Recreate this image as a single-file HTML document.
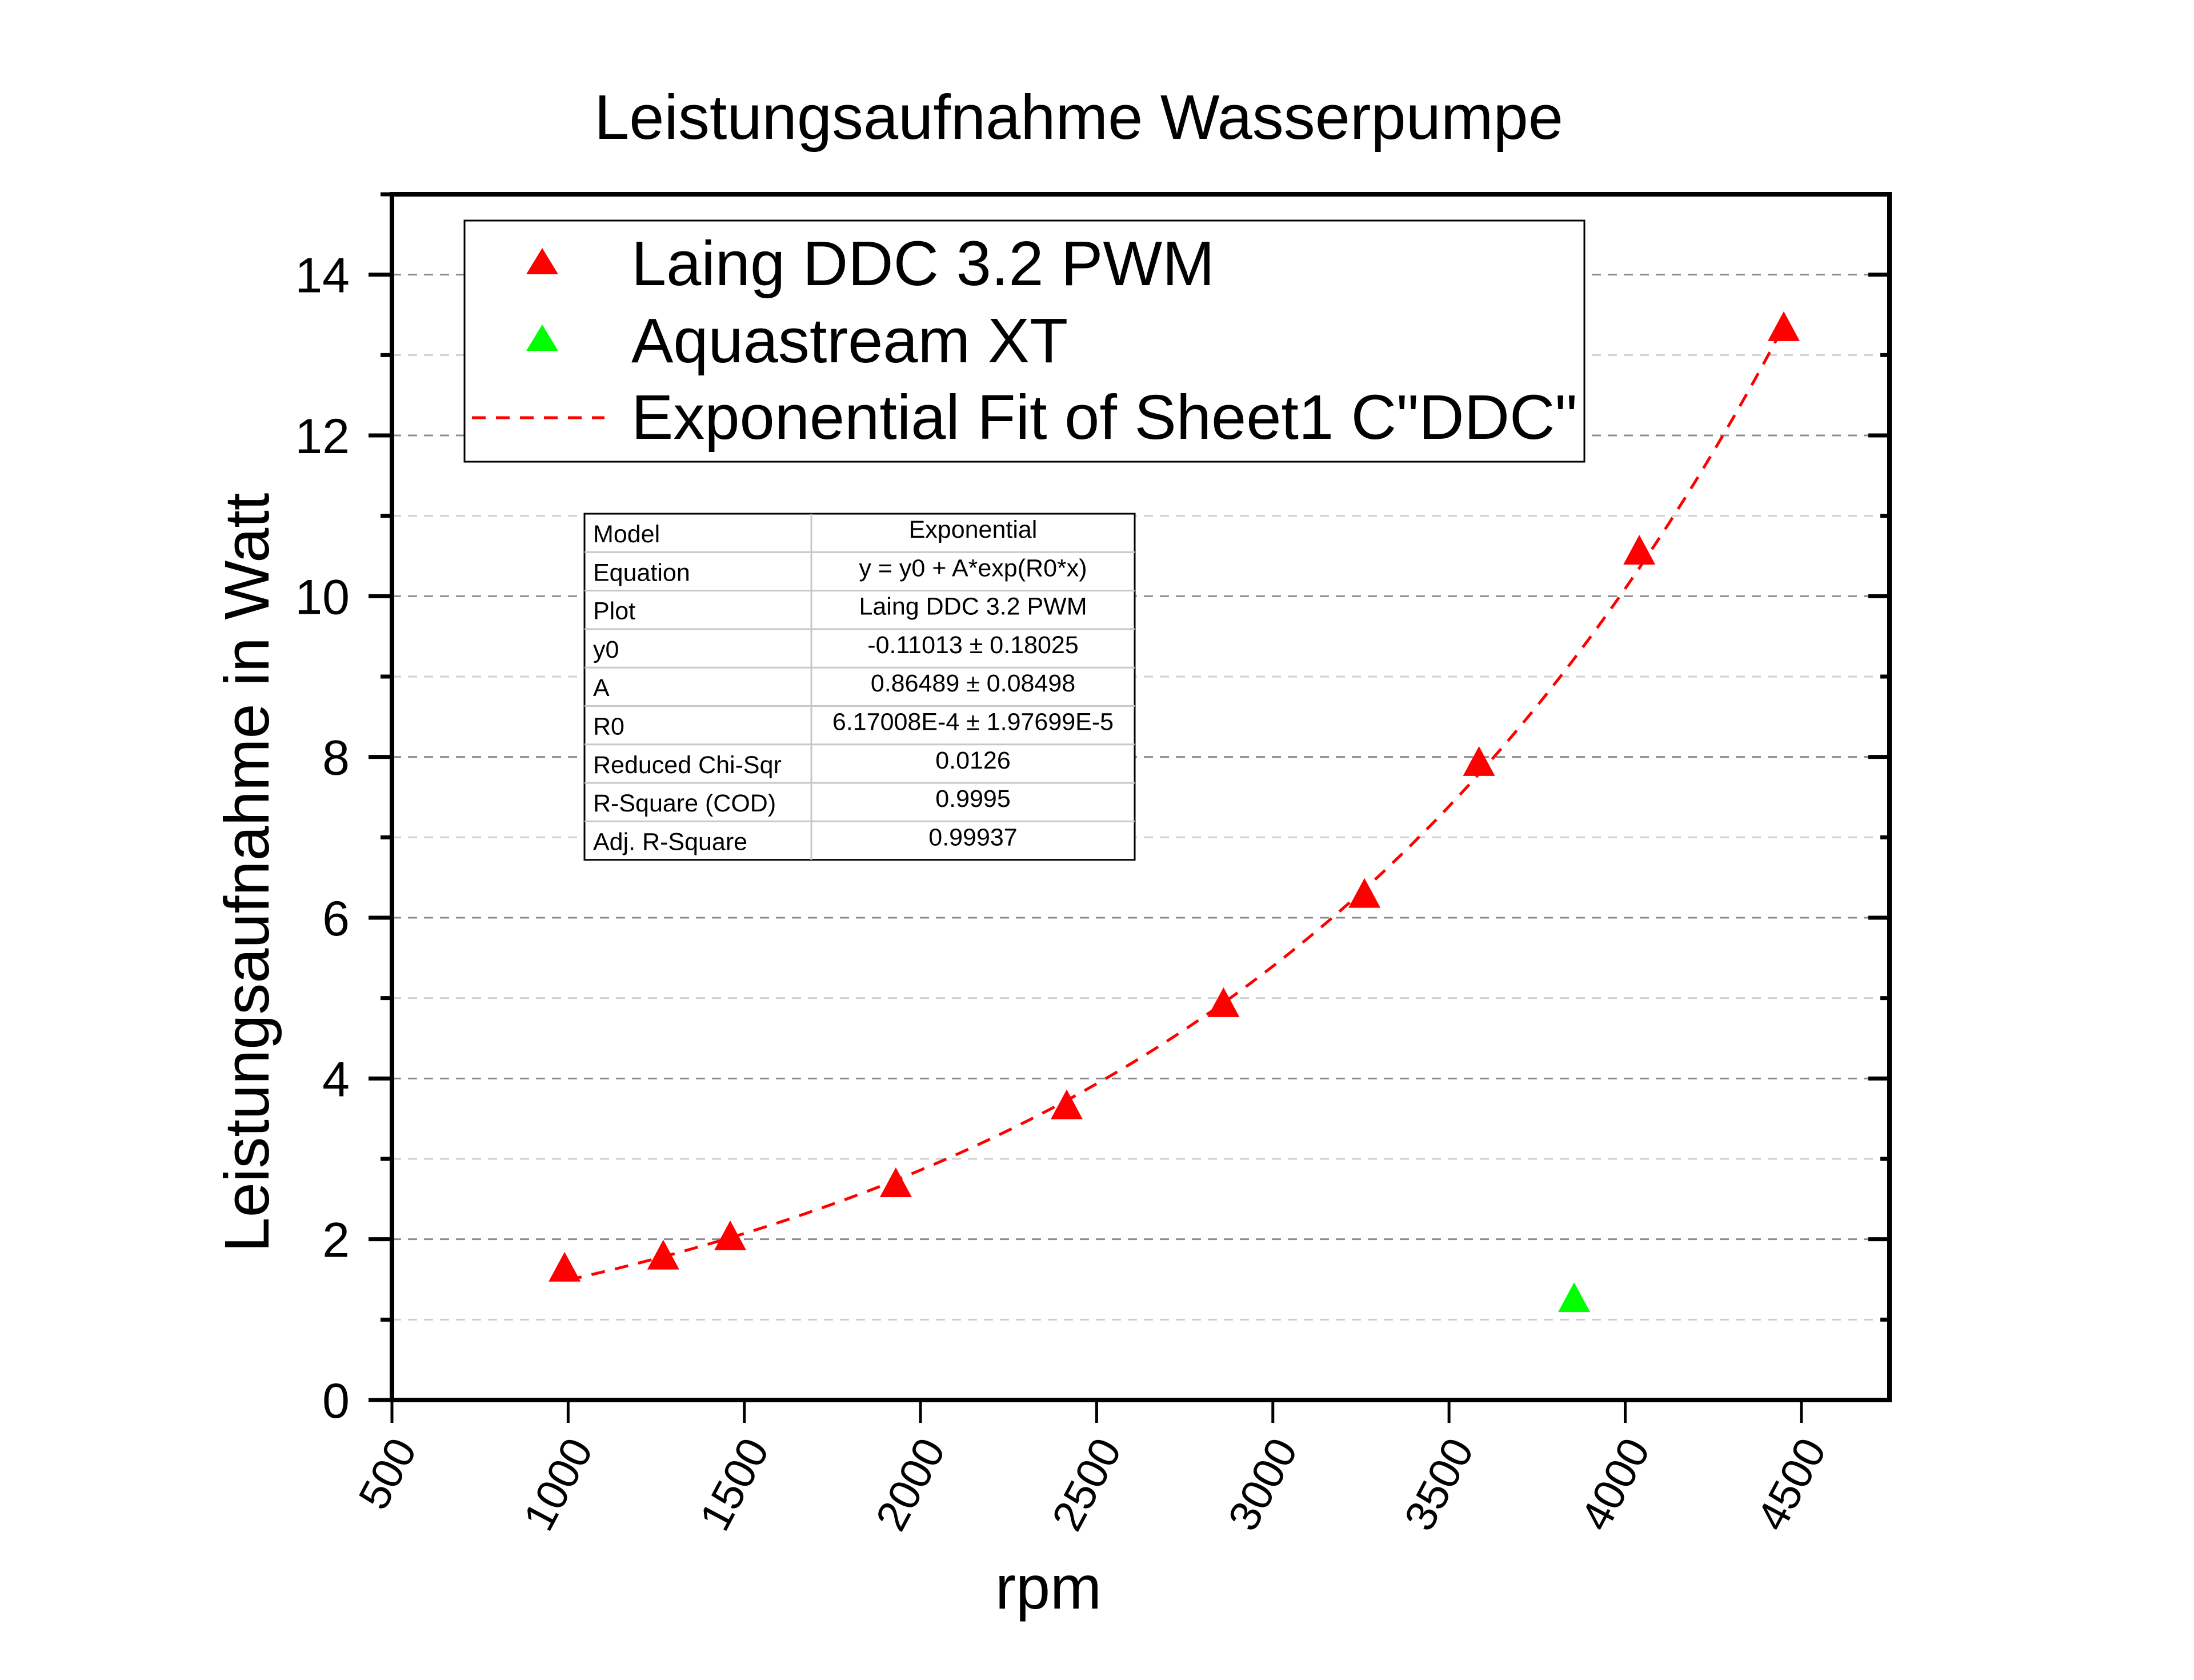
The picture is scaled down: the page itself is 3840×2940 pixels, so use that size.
<!DOCTYPE html>
<html><head><meta charset="utf-8"><style>
html,body{margin:0;padding:0;background:#fff;}
svg{display:block;font-family:"Liberation Sans",Arial,sans-serif;}
</style></head><body>
<svg id="chart" width="3840" height="2940" viewBox="0 0 3840 2940" xmlns="http://www.w3.org/2000/svg">
<rect x="0" y="0" width="3840" height="2940" fill="#fff"/>
<g id="grid"></g>
<g id="fit"></g>
<g id="marks"></g>
<g id="axes"></g>
<text x="1888" y="243" font-size="110" text-anchor="middle">Leistungsaufnahme Wasserpumpe</text>
<text x="1835" y="2815" font-size="108" text-anchor="middle">rpm</text>
<text transform="translate(470,1527) rotate(-90)" x="0" y="0" font-size="110" text-anchor="middle">Leistungsaufnahme in Watt</text>
<g>
<rect x="813" y="386" width="1960" height="422" fill="#fff" stroke="#000" stroke-width="3"/>
<polygon points="949,434 977,480 921,480" fill="#ff0000"/>
<text x="1105" y="499" font-size="110">Laing DDC 3.2 PWM</text>
<polygon points="949,568 977,614 921,614" fill="#00ff00"/>
<text x="1105" y="634" font-size="110">Aquastream XT</text>
<line x1="826" y1="731" x2="1058" y2="731" stroke="#ff0000" stroke-width="5" stroke-dasharray="24 18"/>
<text x="1105" y="768" font-size="110">Exponential Fit of Sheet1 C"DDC"</text>
</g>
<g id="table"></g>
<script>
const ddcRpm=[990,1270,1460,1930,2415,2860,3260,3585,4040,4450];
const ddcWatt=[1.63,1.78,2.02,2.68,3.65,4.92,6.28,7.92,10.55,13.33];
const aquaRpm=[3855];
const aquaWatt=[1.25];
const fitY0=-0.11013, fitA=0.86489, fitR0=6.17008e-4;
const fitStart=1000, fitEnd=4450;
const xTicks=[500,1000,1500,2000,2500,3000,3500,4000,4500];
const yTicks=[0,2,4,6,8,10,12,14];
const tableLabels=["Model","Equation","Plot","y0","A","R0","Reduced Chi-Sqr","R-Square (COD)","Adj. R-Square"];
const tableValues=["Exponential","y = y0 + A*exp(R0*x)","Laing DDC 3.2 PWM","-0.11013 \u00b1 0.18025","0.86489 \u00b1 0.08498","6.17008E-4 \u00b1 1.97699E-5","0.0126","0.9995","0.99937"];

const NS="http://www.w3.org/2000/svg";
const L=686,R=3307,T=340,B=2450,XMIN=500,XMAX=4750,YMIN=0,YMAX=15;
const sx=v=>L+(v-XMIN)*(R-L)/(XMAX-XMIN);
const sy=v=>B-(v-YMIN)*(B-T)/(YMAX-YMIN);
function mk(tag,attrs,parent){const e=document.createElementNS(NS,tag);for(const k in attrs)e.setAttribute(k,attrs[k]);parent.appendChild(e);return e;}
const grid=document.getElementById('grid'),axes=document.getElementById('axes'),fitG=document.getElementById('fit'),marks=document.getElementById('marks'),tbl=document.getElementById('table');

for(let v=1;v<=14;v++){
  const e=mk('line',{x1:L,x2:R,y1:sy(v),y2:sy(v),stroke:v%2===0?'#8c8c8c':'#cfcfcf','stroke-width':3,'stroke-dasharray':'16 12'},grid);
  
  
}
let d='';
for(let i=0;i<=200;i++){const x=fitStart+(fitEnd-fitStart)*i/200;const y=fitY0+fitA*Math.exp(fitR0*x);d+=(i?'L':'M')+sx(x).toFixed(1)+','+sy(y).toFixed(1);}
const fp=mk('path',{d:d,fill:'none',stroke:'#ff0000','stroke-width':5,'stroke-dasharray':'24 18'},fitG);


function tri(x,y,col,name){const cx=sx(x),cy=sy(y);const p=mk('polygon',{points:`${cx},${cy-30} ${cx+28},${cy+22} ${cx-28},${cy+22}`,fill:col},marks);
  
  }
ddcRpm.forEach((x,i)=>tri(x,ddcWatt[i],'#ff0000','ddc-point'));
aquaRpm.forEach((x,i)=>tri(x,aquaWatt[i],'#00ff00','aquastream-point'));
const fr=mk('rect',{x:L,y:T,width:R-L,height:B-T,fill:'none',stroke:'#000','stroke-width':8},axes);


for(let v=0;v<=15;v++){
  const maj=v%2===0;const y=sy(v);
  const a=mk('line',{x1:L-(maj?41:20),x2:L,y1:y,y2:y,stroke:'#000','stroke-width':7},axes);
  
  
  const b=mk('line',{x1:R,x2:R-(maj?37:16),y1:y,y2:y,stroke:'#000','stroke-width':7},axes);
  
  
}
yTicks.forEach(v=>{const t=mk('text',{x:612,y:sy(v)+31,'font-size':86,'text-anchor':'end'},axes);t.textContent=v;
  
  });
xTicks.forEach(v=>{const x=sx(v);
  const l=mk('line',{x1:x,x2:x,y1:B,y2:B+40,stroke:'#000','stroke-width':5},axes);
  
  
  const t=mk('text',{transform:`translate(${x+45},${B+85}) rotate(-62)`,'font-size':76,'text-anchor':'end'},axes);t.textContent=v;
  
  });
const TX=1023,TC=1420,TR=1986,TT=899,RH=67.3;
const tb=mk('rect',{x:TX,y:TT,width:TR-TX,height:RH*9,fill:'#fff',stroke:'#000','stroke-width':3},tbl);


const cd=mk('line',{x1:TC,x2:TC,y1:TT,y2:TT+RH*9,stroke:'#c8c8c8','stroke-width':3},tbl);


tableLabels.forEach((s,i)=>{
  if(i>0){const rl=mk('line',{x1:TX,x2:TR,y1:TT+RH*i,y2:TT+RH*i,stroke:'#c8c8c8','stroke-width':3},tbl);
    
    }
  const a=mk('text',{x:1038,y:TT+RH*i+50,'font-size':43},tbl);a.textContent=s;
  
  
  const b=mk('text',{x:(TC+TR)/2,y:TT+RH*i+42,'font-size':43,'text-anchor':'middle'},tbl);b.textContent=tableValues[i];
  
  
});
</script>
</svg>
</body></html>
